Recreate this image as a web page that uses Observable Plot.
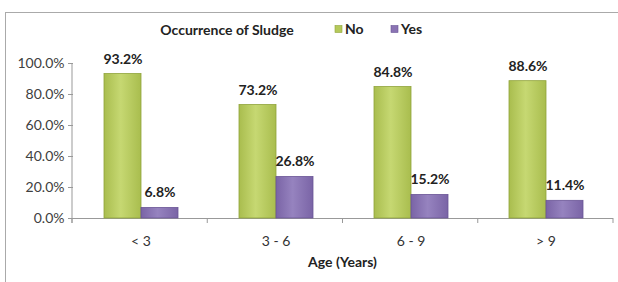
<!DOCTYPE html>
<html><head><meta charset="utf-8">
<script src="https://cdn.jsdelivr.net/npm/d3@7"></script>
<script src="https://cdn.jsdelivr.net/npm/@observablehq/plot@0.6"></script>
<style>body{margin:0;background:#fff} svg{display:block}</style>
</head><body><div id="chart"></div>
<script>
const ages = ["< 3", "3 - 6", "6 - 9", "> 9"];
const series = ["No", "Yes"];
const noValues = [0.932, 0.732, 0.848, 0.886];
const yesValues = [0.068, 0.268, 0.152, 0.114];
const yTicks = [0, 0.2, 0.4, 0.6, 0.8, 1.0];
const title = "Occurrence of Sludge";
const xLabel = "Age (Years)";

const data = ages.flatMap((a, i) => [
  {age: a, series: "No", value: noValues[i]},
  {age: a, series: "Yes", value: yesValues[i]}
]);
const fmt = d3.format(".1%");

const chart = Plot.plot({
  width: 618, height: 282,
  marginLeft: 72, marginRight: 5, marginTop: 63, marginBottom: 64,
  style: {fontFamily: "Lato", fontSize: "14px", color: "#333", background: "#fff"},
  fx: {domain: ages, padding: 0, label: null},
  x: {domain: series, paddingInner: 0, paddingOuter: 0.78, axis: null},
  y: {domain: [0, 1], axis: null},
  marks: [
    Plot.axisY({ticks: yTicks, tickFormat: ".1%", tickSize: 5, tickPadding: 4, label: null, fontSize: 14, fill: "#404040", stroke: "#999"}),
    Plot.axisFx({anchor: "bottom", tickSize: 0, tickPadding: 18, label: null, fontSize: 14, fill: "#333"}),
    Plot.ruleY([0], {stroke: "#999"}),
    Plot.barY(data.filter(d => d.series === "No"), {fx: "age", x: "series", y: "value", fill: "url(#gNo)", stroke: "#8fa33a", strokeWidth: 0.8}),
    Plot.barY(data.filter(d => d.series === "Yes"), {fx: "age", x: "series", y: "value", fill: "url(#gYes)", stroke: "#6a5596", strokeWidth: 0.8}),
    Plot.text(data, {fx: "age", x: "series", y: "value", text: d => fmt(d.value), dy: -15, fontWeight: "bold", fontSize: 14, fill: "#222"})
  ]
});

const svg = d3.select(chart);
const defs = svg.insert("defs", ":first-child");
function grad(id, edge, mid) {
  const g = defs.append("linearGradient").attr("id", id).attr("x1", "0").attr("x2", "1").attr("y1", "0").attr("y2", "0");
  g.append("stop").attr("offset", "0%").attr("stop-color", edge);
  g.append("stop").attr("offset", "45%").attr("stop-color", mid);
  g.append("stop").attr("offset", "100%").attr("stop-color", edge);
}
grad("gNo", "#a9bd4e", "#c6d872");
grad("gYes", "#7a64a6", "#9683bf");

const fxS = chart.scale("fx"), yS = chart.scale("y");
const xr0 = fxS.range[0], xr1 = fxS.range[1];
const step = (xr1 - xr0) / ages.length;
const yb = yS.range[0], yt = yS.range[1];

// y axis line
svg.append("line").attr("x1", xr0).attr("x2", xr0).attr("y1", yt).attr("y2", yb + 5).attr("stroke", "#999");
// category boundary ticks
for (let i = 0; i <= ages.length; i++) {
  const x = xr0 + i * step;
  svg.append("line").attr("x1", x).attr("x2", x).attr("y1", yb).attr("y2", yb + 5).attr("stroke", "#999");
}
// x label
svg.append("text").attr("x", (xr0 + xr1) / 2).attr("y", 267).attr("text-anchor", "middle")
  .attr("font-weight", "bold").attr("font-size", 14).attr("fill", "#222").text(xLabel);
// title + legend
svg.append("text").attr("x", 227).attr("y", 35).attr("text-anchor", "middle")
  .attr("font-weight", "bold").attr("font-size", 14).attr("fill", "#222").text(title);
const legendColors = {No: "#b5c95a", Yes: "#8a73b3"};
const legendX = {No: 335, Yes: 391};
series.forEach(s => {
  svg.append("rect").attr("x", legendX[s]).attr("y", 25.5).attr("width", 7).attr("height", 7)
    .attr("fill", legendColors[s]).attr("stroke", s === "No" ? "#8fa33a" : "#6a5596").attr("stroke-width", 0.6);
  svg.append("text").attr("x", legendX[s] + 10).attr("y", 34).attr("text-anchor", "start").attr("font-weight", "bold")
    .attr("font-size", 14).attr("fill", "#222").text(s);
});
// outer border
svg.append("rect").attr("x", 5.5).attr("y", 12.5).attr("width", 700).attr("height", 400)
  .attr("fill", "none").attr("stroke", "#aaa");
document.getElementById("chart").appendChild(chart);
</script>
</body></html>
